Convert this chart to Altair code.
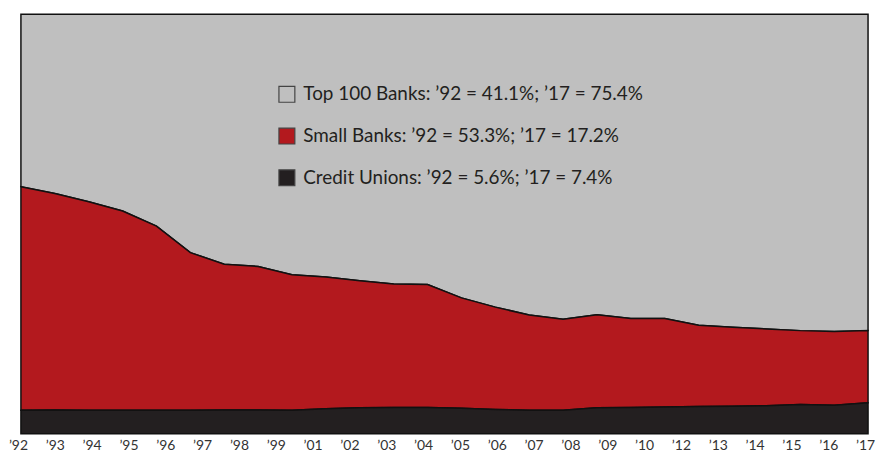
import altair as alt
import pandas as pd

years = list(range(1992, 2018))
top100 = [41.1, 42.7, 44.7, 46.9, 50.5, 56.8, 59.6, 60.1, 62.1, 62.6, 63.5, 64.3, 64.4,
          67.6, 69.8, 71.7, 72.7, 71.6, 72.5, 72.5, 74.1, 74.6, 75.0, 75.4, 75.6, 75.4]
small = [53.3, 51.6, 49.7, 47.5, 43.9, 37.6, 34.7, 34.2, 32.3, 31.4, 30.3, 29.4, 29.3,
         26.3, 24.4, 22.7, 21.7, 22.2, 21.2, 21.1, 19.4, 18.8, 18.3, 17.6, 17.6, 17.2]
cu = [5.6, 5.7, 5.6, 5.6, 5.6, 5.6, 5.7, 5.7, 5.6, 6.0, 6.2, 6.3, 6.3,
      6.1, 5.8, 5.6, 5.6, 6.2, 6.3, 6.4, 6.5, 6.6, 6.7, 7.0, 6.8, 7.4]
series_names = ["Top 100 Banks", "Small Banks", "Credit Unions"]
tick_labels = ["’92", "’93", "’94", "’95", "’96", "’97", "’98", "’99", "’01", "’02",
               "’03", "’04", "’05", "’06", "’07", "’08", "’09", "’10", "’12", "’13",
               "’14", "’15", "’16", "’17"]
colors = ["#bfbfbf", "#b3191e", "#231f20"]

series_values = [top100, small, cu]
legend_labels = [f"{n}: ’92 = {v[0]}%; ’17 = {v[-1]}%" for n, v in zip(series_names, series_values)]
stack_order = {legend_labels[0]: 2, legend_labels[1]: 1, legend_labels[2]: 0}

rows = []
for lab, vals in zip(legend_labels, series_values):
    for y, v in zip(years, vals):
        rows.append({"year": y, "series": lab, "value": v, "ord": stack_order[lab]})
df = pd.DataFrame(rows)
lab_df = pd.DataFrame({"label": tick_labels})

FONT = "Lato"

area = alt.Chart(df).mark_area(stroke="#111111", strokeWidth=1.5, interpolate="linear").encode(
    x=alt.X("year:Q", axis=None, scale=alt.Scale(domain=[1992, 2017], nice=False, zero=False)),
    y=alt.Y("value:Q", stack="normalize", axis=None),
    color=alt.Color("series:N",
                    scale=alt.Scale(domain=legend_labels, range=colors),
                    sort=legend_labels,
                    legend=alt.Legend(orient="none", legendX=258, legendY=71, title=None,
                                      symbolType="square", symbolSize=256,
                                      symbolStrokeColor="#444444", symbolStrokeWidth=1.2,
                                      labelFontSize=19, labelFont=FONT, labelColor="#231f20",
                                      rowPadding=21, labelOffset=7, labelLimit=600, padding=0)),
    order=alt.Order("ord:Q"),
)

ticks = alt.Chart(lab_df).mark_point(opacity=0).encode(
    x=alt.X("label:O", sort=tick_labels,
            scale=alt.Scale(type="point", range=[-3, 849], padding=0),
            axis=alt.Axis(orient="bottom", title=None, ticks=False, domain=False, grid=False,
                          labelAngle=0, labelFontSize=14, labelFont=FONT, labelColor="#333333",
                          labelPadding=5)),
    y=alt.value(0),
)

chart = alt.layer(area, ticks).resolve_scale(x="independent").properties(
    width=852, height=422,
    padding={"left": 13, "top": 5, "right": 8, "bottom": 22},
    autosize=alt.AutoSizeParams(type="none"),
).configure_view(stroke=None)

chart.save("out.html", embed_options={"renderer": "svg", "actions": False})
